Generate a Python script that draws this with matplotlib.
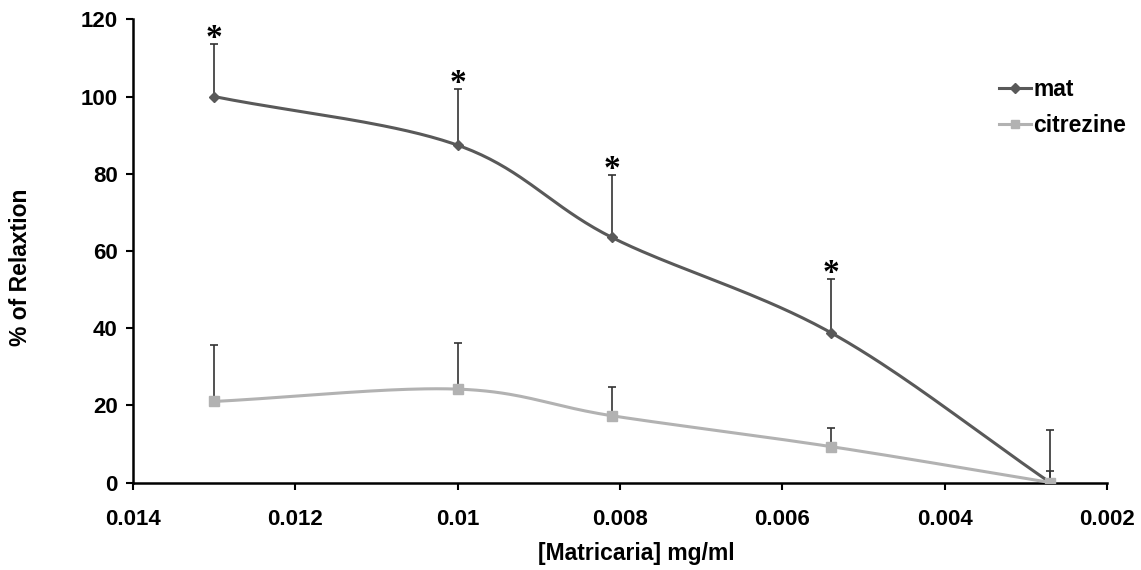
import numpy as np
import matplotlib
matplotlib.use("Agg")
import matplotlib.pyplot as plt
from matplotlib.lines import Line2D

plt.rcParams['font.family'] = ['Liberation Sans', 'DejaVu Sans']

conc = [0.013, 0.010, 0.0081, 0.0054, 0.0027]
mat = [100.0, 87.4, 63.5, 38.8, 0.0]
mat_err = [13.5, 14.5, 16.2, 13.9, 13.5]
citrezine = [21.0, 24.2, 17.3, 9.3, 0.0]
citrezine_err = [14.5, 11.9, 7.4, 4.9, 3.0]
signif = [True, True, True, True, False]

xticks = [0.014, 0.012, 0.010, 0.008, 0.006, 0.004, 0.002]
xtick_labels = ['0.014', '0.012', '0.01', '0.008', '0.006', '0.004', '0.002']
yticks = [0, 20, 40, 60, 80, 100, 120]


def smooth(xs, ys, n=40):
    # catmull-rom like excel "smoothed line"
    xs = np.asarray(xs, float)
    ys = np.asarray(ys, float)
    px = np.concatenate([[2 * xs[0] - xs[1]], xs, [2 * xs[-1] - xs[-2]]])
    py = np.concatenate([[2 * ys[0] - ys[1]], ys, [2 * ys[-1] - ys[-2]]])
    ox, oy = [], []
    t = np.linspace(0, 1, n)
    for i in range(1, len(px) - 2):
        for p, o in ((px, ox), (py, oy)):
            p0, p1, p2, p3 = p[i - 1], p[i], p[i + 1], p[i + 2]
            o.extend(0.5 * (2 * p1 + (-p0 + p2) * t
                            + (2 * p0 - 5 * p1 + 4 * p2 - p3) * t ** 2
                            + (-p0 + 3 * p1 - 3 * p2 + p3) * t ** 3))
    return ox, oy


fig = plt.figure(figsize=(11.41, 5.70), dpi=100)
ax = fig.add_axes([0.1166, 0.1535, 0.8536, 0.8125])

c_mat = '#595959'
c_cit = '#b2b2b2'

ax.errorbar(conc, mat, yerr=[np.zeros(len(mat)), mat_err], fmt='none',
            ecolor='#333333', elinewidth=1.2, capsize=3, capthick=1.2, zorder=2)
ax.errorbar(conc, citrezine, yerr=[np.zeros(len(citrezine)), citrezine_err], fmt='none',
            ecolor='#333333', elinewidth=1.2, capsize=3, capthick=1.2, zorder=2)

sx, sy = smooth(conc, mat)
ax.plot(sx, sy, color=c_mat, lw=2.2, zorder=3)
ax.plot(conc, mat, ls='none', marker='D', ms=5, color=c_mat, zorder=4)
sx, sy = smooth(conc, citrezine)
ax.plot(sx, sy, color=c_cit, lw=2.2, zorder=3)
ax.plot(conc, citrezine, ls='none', marker='s', ms=7, color=c_cit, zorder=4)

for x, y, e, s in zip(conc, mat, mat_err, signif):
    if s:
        ax.annotate('*', (x, y + e), xytext=(0, 4), textcoords='offset points',
                    ha='center', va='center', fontsize=24,
                    family='Liberation Serif', fontweight='bold', color='black')

ax.set_xlim(0.014, 0.002)
ax.set_ylim(0, 120)
ax.set_xticks(xticks)
ax.set_xticklabels(xtick_labels)
ax.set_yticks(yticks)
for sp in ('top', 'right'):
    ax.spines[sp].set_visible(False)
for sp in ('left', 'bottom'):
    ax.spines[sp].set_linewidth(1.8)
ax.tick_params(axis='both', direction='out', length=5, width=1.5, labelsize=16)
ax.tick_params(axis='x', pad=14)
ax.tick_params(axis='y', pad=6)
for lab in ax.get_xticklabels() + ax.get_yticklabels():
    lab.set_fontweight('bold')

ax.set_xlabel('[Matricaria] mg/ml', fontsize=16.5, fontweight='bold')
ax.xaxis.set_label_coords(0.517, -0.128)
ax.set_ylabel('% of Relaxtion', fontsize=16.5, fontweight='bold')
ax.yaxis.set_label_coords(-0.104, 0.465)

handles = [Line2D([], [], color=c_mat, lw=2.2, marker='D', ms=5),
           Line2D([], [], color=c_cit, lw=2.2, marker='s', ms=6)]
ax.legend(handles, ['mat', 'citrezine'], loc='upper left', bbox_to_anchor=(0.868, 0.918),
          frameon=False, handlelength=1.4, handletextpad=0.1, labelspacing=0.55,
          prop={'weight': 'bold', 'size': 16.5})

fig.savefig('out.png', dpi=100)
